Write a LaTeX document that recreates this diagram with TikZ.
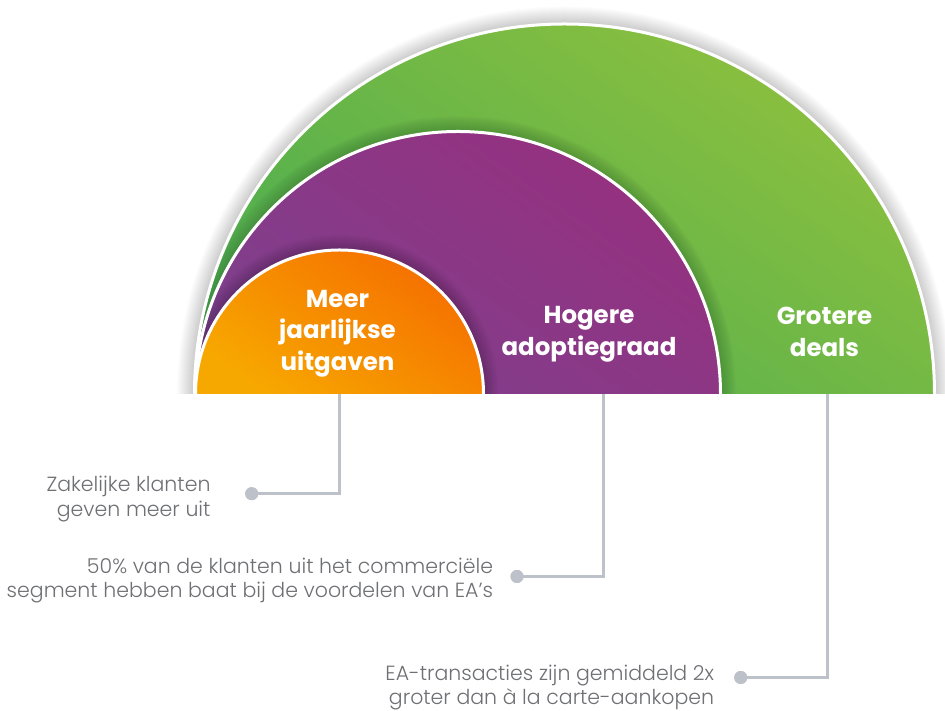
\documentclass[tikz,border=0pt]{standalone}
\usepackage{fontspec}
\setmainfont{Poppins}
\newfontfamily\lightfont{Poppins Light}
\definecolor{grnT}{HTML}{8DC03E}
\definecolor{grnB}{HTML}{4DAE50}
\definecolor{purT}{HTML}{96307F}
\definecolor{purB}{HTML}{7E408D}
\definecolor{orgT}{HTML}{F56E00}
\definecolor{orgB}{HTML}{F7A800}
\definecolor{linegray}{HTML}{BDC1C9}
\definecolor{txtgray}{HTML}{6F7074}
\tikzset{
  archlabel/.style={text=white, align=center, inner sep=0pt, font=\fontsize{24.5}{31.5}\selectfont\bfseries},
  note/.style={text=txtgray, align=right, inner sep=0pt, anchor=east, font=\lightfont\fontsize{20.5}{24.6}\selectfont},
  connector/.style={draw=linegray, line width=3pt},
  dotnode/.style={circle, fill=linegray, minimum size=13pt, inner sep=0pt},
  rim/.style={draw=white, line width=3pt}
}
\begin{document}
\begin{tikzpicture}[x=1pt,y=1pt]
\useasboundingbox (0,0) rectangle (945,711);
\fill[white] (0,0) rectangle (945,711);
% outer shadow
\begin{scope}
  \clip (0,317) rectangle (945,711);
  \foreach \k in {1,...,16} {\fill[black,opacity=0.013] (564.5,317) circle[radius=371.5+\k];}
\end{scope}
% green
\path[top color=grnT, bottom color=grnB, shading angle=-35] (194.5,317) arc[start angle=180,end angle=0,radius=370] -- cycle;
\begin{scope}
  \clip (194.5,317) arc[start angle=180,end angle=0,radius=370] -- cycle;
  \foreach \k in {1,...,14} {\fill[black,opacity=0.012] (458,317) circle[radius=264+\k];}
\end{scope}
\draw[rim] (194.5,317) arc[start angle=180,end angle=0,radius=370];
% purple
\path[top color=purT, bottom color=purB, shading angle=-35] (195.5,317) arc[start angle=180,end angle=0,radius=262.5] -- cycle;
\begin{scope}
  \clip (195.5,317) arc[start angle=180,end angle=0,radius=262.5] -- cycle;
  \foreach \k in {1,...,14} {\fill[black,opacity=0.012] (339.5,317) circle[radius=145.5+\k];}
\end{scope}
\draw[rim] (195.5,317) arc[start angle=180,end angle=0,radius=262.5];
% orange
\path[top color=orgT, bottom color=orgB, shading angle=-35] (195.5,317) arc[start angle=180,end angle=0,radius=144] -- cycle;
\draw[rim] (195.5,317) arc[start angle=180,end angle=0,radius=144];
% labels
\node[archlabel] (lorange) at (337.5,377.3) {Meer\\jaarlijkse\\uitgaven};
\node[archlabel] (lpurple) at (589,376.8) {Hogere\\adoptiegraad};
\node[archlabel] (lgreen) at (824.5,379.3) {Grotere\\deals};
% connector anchors
\coordinate (c1) at (339,317);
\coordinate (c2) at (603.5,317);
\coordinate (c3) at (827.3,317);
\node[dotnode] (d1) at (251.7,217.3) {};
\node[dotnode] (d2) at (517,134.5) {};
\node[dotnode] (d3) at (740.7,33.5) {};
\draw[connector] (c1) |- (d1.center);
\draw[connector] (c2) |- (d2.center);
\draw[connector] (c3) |- (d3.center);
\node[dotnode] at (d1) {};
\node[dotnode] at (d2) {};
\node[dotnode] at (d3) {};
% notes
\node[note] (n1) at (210.7,211.8) {Zakelijke klanten\\geven meer uit};
\node[note] (n2) at (493.3,130.3) {50\% van de klanten uit het commerciële\\segment hebben baat bij de voordelen van EA’s};
\node[note] (n3) at (714.3,23.6) {EA-transacties zijn gemiddeld 2x\\groter dan à la carte-aankopen};
\end{tikzpicture}
\end{document}
